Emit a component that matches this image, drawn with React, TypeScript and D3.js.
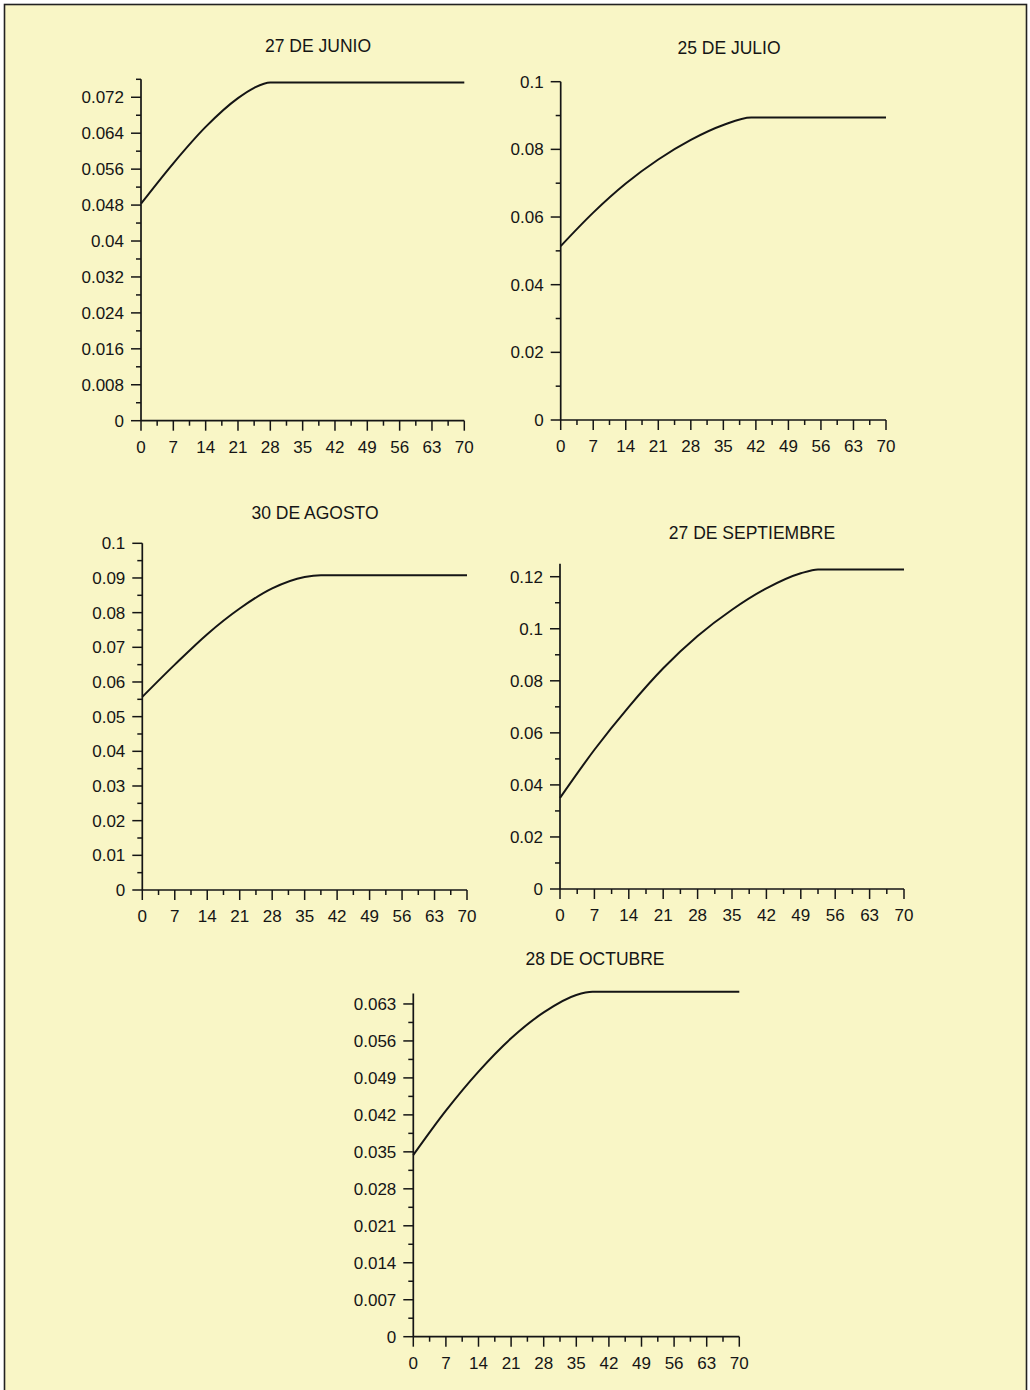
import React from "react";
import * as d3 from "d3";

// ---- Data ----
const titles = ["27 DE JUNIO", "25 DE JULIO", "30 DE AGOSTO", "27 DE SEPTIEMBRE", "28 DE OCTUBRE"];

const xTicks = [0, 7, 14, 21, 28, 35, 42, 49, 56, 63, 70];

const junioDays = [0, 7, 14, 21, 24.5, 28, 35, 42, 49, 56, 63, 70];
const junioVals = [0.0483, 0.0573, 0.0654, 0.0718, 0.0741, 0.0753, 0.0753, 0.0753, 0.0753, 0.0753, 0.0753, 0.0753];

const julioDays = [0, 7, 14, 21, 28, 35, 41, 49, 56, 63, 70];
const julioVals = [0.0514, 0.0613, 0.0699, 0.077, 0.0828, 0.0872, 0.0894, 0.0894, 0.0894, 0.0894, 0.0894];

const agostoDays = [0, 7, 14, 21, 28, 35, 38.5, 42, 49, 56, 63, 70];
const agostoVals = [0.0557, 0.065, 0.0738, 0.0812, 0.087, 0.0903, 0.0908, 0.0908, 0.0908, 0.0908, 0.0908, 0.0908];

const septDays = [0, 7, 14, 21, 28, 35, 42, 49, 52.5, 56, 63, 70];
const septVals = [0.035, 0.0535, 0.07, 0.0848, 0.0972, 0.1073, 0.1155, 0.1213, 0.1228, 0.1228, 0.1228, 0.1228];

const octubreDays = [0, 7, 14, 21, 28, 35, 38.5, 42, 49, 56, 63, 70];
const octubreVals = [0.0344, 0.0428, 0.0502, 0.0565, 0.0614, 0.0647, 0.0653, 0.0653, 0.0653, 0.0653, 0.0653, 0.0653];

const junioYTicks = [0, 0.008, 0.016, 0.024, 0.032, 0.04, 0.048, 0.056, 0.064, 0.072];
const julioYTicks = [0, 0.02, 0.04, 0.06, 0.08, 0.1];
const agostoYTicks = [0, 0.01, 0.02, 0.03, 0.04, 0.05, 0.06, 0.07, 0.08, 0.09, 0.1];
const septYTicks = [0, 0.02, 0.04, 0.06, 0.08, 0.1, 0.12];
const octubreYTicks = [0, 0.007, 0.014, 0.021, 0.028, 0.035, 0.042, 0.049, 0.056, 0.063];

const yMax = [0.076, 0.1, 0.1, 0.125, 0.065];

// ---- Layout (positions only) ----
const layouts = [
  { x0: 141, x1: 464.3, y0: 420.7, y1: 79.3, tx: 318, ty: 52 },
  { x0: 560.7, x1: 886, y0: 420, y1: 81.7, tx: 729, ty: 54 },
  { x0: 142.3, x1: 467, y0: 890, y1: 543.3, tx: 315, ty: 519 },
  { x0: 560, x1: 904, y0: 889, y1: 563.7, tx: 752, ty: 539 },
  { x0: 413.3, x1: 739.3, y0: 1336.7, y1: 993.4, tx: 595, ty: 965 },
];

const panels = [
  { days: junioDays, vals: junioVals, yTicks: junioYTicks },
  { days: julioDays, vals: julioVals, yTicks: julioYTicks },
  { days: agostoDays, vals: agostoVals, yTicks: agostoYTicks },
  { days: septDays, vals: septVals, yTicks: septYTicks },
  { days: octubreDays, vals: octubreVals, yTicks: octubreYTicks },
];

const FONT = "'Liberation Sans', Arial, sans-serif";
const INK = "#151515";

const fmt = (v: number) => String(+v.toFixed(4));

function Panel({ idx }: { idx: number }) {
  const L = layouts[idx];
  const P = panels[idx];
  const x = d3.scaleLinear().domain([0, 70]).range([L.x0, L.x1]);
  const y = d3.scaleLinear().domain([0, yMax[idx]]).range([L.y0, L.y1]);

  const pts = P.days.map((d, i) => [d, P.vals[i]] as [number, number]);
  const line = d3
    .line<[number, number]>()
    .x((d) => x(d[0]))
    .y((d) => y(d[1]))
    .curve(d3.curveMonotoneX);

  const step = P.yTicks[1] - P.yTicks[0];
  const minorY: number[] = [];
  for (let v = step / 2; v <= yMax[idx] + 1e-9; v += step) {
    const onMajor = P.yTicks.some((t) => Math.abs(t - v) < 1e-9);
    if (!onMajor) minorY.push(v);
  }
  const minorX: number[] = [];
  for (let i = 0; i < xTicks.length - 1; i++) minorX.push((xTicks[i] + xTicks[i + 1]) / 2);

  return (
    <g>
      <text x={L.tx} y={L.ty} textAnchor="middle" fontFamily={FONT} fontSize={17.5} fill={INK}>
        {titles[idx]}
      </text>
      <line x1={x(0)} x2={x(0)} y1={y(0)} y2={y(yMax[idx])} stroke={INK} strokeWidth={1.7} />
      <line x1={x(0)} x2={x(70)} y1={y(0)} y2={y(0)} stroke={INK} strokeWidth={1.7} />
      {P.yTicks.map((t) => (
        <g key={"y" + t}>
          <line x1={x(0) - 10} x2={x(0)} y1={y(t)} y2={y(t)} stroke={INK} strokeWidth={1.5} />
          <text
            x={x(0) - 17}
            y={y(t)}
            dy="0.36em"
            textAnchor="end"
            fontFamily={FONT}
            fontSize={17}
            fill={INK}
          >
            {fmt(t)}
          </text>
        </g>
      ))}
      {minorY.map((t) => (
        <line key={"my" + t} x1={x(0) - 5} x2={x(0)} y1={y(t)} y2={y(t)} stroke={INK} strokeWidth={1.5} />
      ))}
      {xTicks.map((t) => (
        <g key={"x" + t}>
          <line x1={x(t)} x2={x(t)} y1={y(0)} y2={y(0) + 10} stroke={INK} strokeWidth={1.5} />
          <text x={x(t)} y={y(0) + 32} textAnchor="middle" fontFamily={FONT} fontSize={17} fill={INK}>
            {t}
          </text>
        </g>
      ))}
      {minorX.map((t) => (
        <line key={"mx" + t} x1={x(t)} x2={x(t)} y1={y(0)} y2={y(0) + 5} stroke={INK} strokeWidth={1.5} />
      ))}
      <path d={line(pts) || ""} fill="none" stroke={INK} strokeWidth={2} />
    </g>
  );
}

export default function App() {
  return (
    <div style={{ position: "absolute", left: 0, top: 0 }}>
      <svg width={1030} height={1390} style={{ display: "block", background: "#ffffff" }}>
        <rect x={4.5} y={4.5} width={1022} height={1400} fill="#f9f6c6" stroke="#222" strokeWidth={1.6} />
        {titles.map((_, i) => (
          <Panel key={i} idx={i} />
        ))}
      </svg>
    </div>
  );
}
